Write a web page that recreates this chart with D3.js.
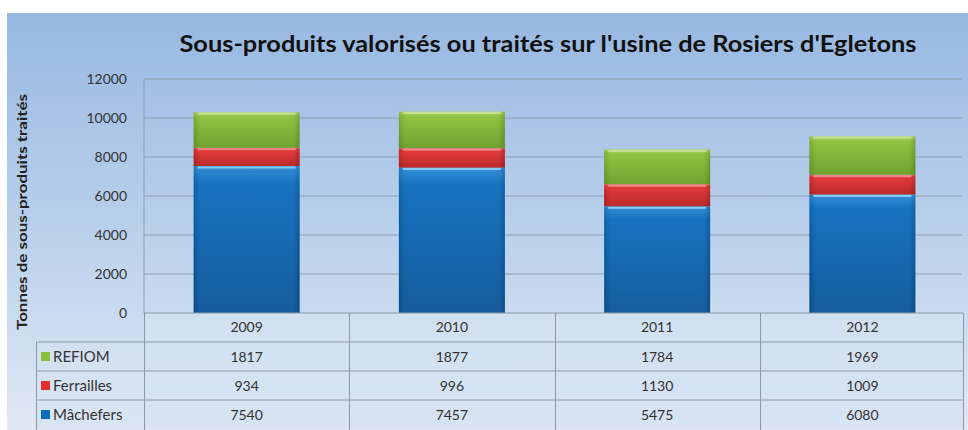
<!DOCTYPE html>
<html>
<head>
<meta charset="utf-8">
<script src="https://cdn.jsdelivr.net/npm/d3@7"></script>
<style>
  body { margin: 0; background: #fff; }
  text { font-family: Lato, "Open Sans", sans-serif; }
</style>
</head>
<body>
<script>
// data
const years = ['2009', '2010', '2011', '2012']
const series = ['Mâchefers', 'Ferrailles', 'REFIOM']
const machefers = [7540, 7457, 5475, 6080]
const ferrailles = [934, 996, 1130, 1009]
const refiom = [1817, 1877, 1784, 1969]
const yTicks = [0, 2000, 4000, 6000, 8000, 10000, 12000]

const W = 968, H = 430
const colors = {
    'Mâchefers': ['#2a8ad6', '#0b6cbc', '#095498'],
    'Ferrailles': ['#f06060', '#e2302f', '#b82020'],
    'REFIOM': ['#aed65a', '#8bc13a', '#6a9e26']
}

const rows = years.map((y, i) => ({
    year: y,
    'Mâchefers': machefers[i],
    'Ferrailles': ferrailles[i],
    'REFIOM': refiom[i]
}))
const stacked = d3.stack().keys(series)(rows)

const svg = d3.select('body').append('svg')
    .attr('width', W).attr('height', H)

const defs = svg.append('defs')
const bg = defs.append('linearGradient').attr('id', 'bg')
    .attr('x1', 0).attr('y1', 0).attr('x2', 0).attr('y2', 1)
bg.append('stop').attr('offset', '0%').attr('stop-color', '#97b8e2')
bg.append('stop').attr('offset', '55%').attr('stop-color', '#bcd2ec')
bg.append('stop').attr('offset', '100%').attr('stop-color', '#dfe9f5')

series.forEach((s, k) => {
    const g = defs.append('linearGradient').attr('id', 'g' + k)
        .attr('x1', 0).attr('y1', 0).attr('x2', 0).attr('y2', 1)
    g.append('stop').attr('offset', '0%').attr('stop-color', colors[s][0])
    g.append('stop').attr('offset', '12%').attr('stop-color', colors[s][1])
    g.append('stop').attr('offset', '100%').attr('stop-color', colors[s][2])
    const h = defs.append('linearGradient').attr('id', 'h' + k)
        .attr('x1', 0).attr('y1', 0).attr('x2', 1).attr('y2', 0)
    h.append('stop').attr('offset', '0%').attr('stop-color', '#000').attr('stop-opacity', 0.12)
    h.append('stop').attr('offset', '8%').attr('stop-color', '#fff').attr('stop-opacity', 0.05)
    h.append('stop').attr('offset', '92%').attr('stop-color', '#fff').attr('stop-opacity', 0.05)
    h.append('stop').attr('offset', '100%').attr('stop-color', '#000').attr('stop-opacity', 0.15)
})

// panel
svg.append('rect').attr('x', 7).attr('y', 13).attr('width', W - 7).attr('height', H - 13)
    .attr('fill', 'url(#bg)')

const x = d3.scaleBand().domain(years).range([144, 965]).paddingInner(0).paddingOuter(0)
const y = d3.scaleLinear().domain([0, 12000]).range([313, 79])

// gridlines
svg.append('g').selectAll('line').data(yTicks.slice(1)).join('line')
    .attr('x1', 144).attr('x2', 962)
    .attr('y1', d => y(d)).attr('y2', d => y(d))
    .attr('stroke', '#8c9fb3').attr('stroke-width', 1)

// y axis
svg.append('line').attr('x1', 144).attr('x2', 144).attr('y1', 79).attr('y2', 313)
    .attr('stroke', '#8c9fb3')
svg.append('g').selectAll('text').data(yTicks).join('text')
    .attr('x', 127).attr('y', d => y(d) + 5)
    .attr('text-anchor', 'end')
    .attr('font-size', 14).attr('fill', '#333')
    .text(d => d)

// bars
const bw = 106
const layer = svg.append('g').selectAll('g').data(stacked).join('g')
layer.selectAll('rect.b').data((d, k) => d.map(v => ({ v, k }))).join('rect')
    .attr('class', 'b')
    .attr('x', d => x(d.v.data.year) + x.bandwidth() / 2 - bw / 2)
    .attr('width', bw)
    .attr('y', d => y(d.v[1]))
    .attr('height', d => y(d.v[0]) - y(d.v[1]))
    .attr('fill', d => 'url(#g' + d.k + ')')
layer.selectAll('rect.s').data((d, k) => d.map(v => ({ v, k }))).join('rect')
    .attr('class', 's')
    .attr('x', d => x(d.v.data.year) + x.bandwidth() / 2 - bw / 2)
    .attr('width', bw)
    .attr('y', d => y(d.v[1]))
    .attr('height', d => y(d.v[0]) - y(d.v[1]))
    .attr('fill', d => 'url(#h' + d.k + ')')
// top highlight of each segment
layer.selectAll('line').data((d, k) => d.map(v => ({ v, k }))).join('line')
    .attr('x1', d => x(d.v.data.year) + x.bandwidth() / 2 - bw / 2 + 4)
    .attr('x2', d => x(d.v.data.year) + x.bandwidth() / 2 + bw / 2 - 4)
    .attr('y1', d => y(d.v[1]) + 1.5).attr('y2', d => y(d.v[1]) + 1.5)
    .attr('stroke', d => d.k === 0 ? '#8fd0f5' : '#fff')
    .attr('stroke-opacity', d => d.k === 0 ? 0.9 : 0.35)
    .attr('stroke-width', 2)

// data table
const rowH = 29
const tableTop = 313
svg.append('rect').attr('x', 144).attr('y', tableTop).attr('width', 819).attr('height', rowH * 4)
    .attr('fill', '#d3e2f3').attr('opacity', 0.8)
svg.append('rect').attr('x', 36).attr('y', tableTop + rowH).attr('width', 108).attr('height', rowH * 3)
    .attr('fill', '#d3e2f3').attr('opacity', 0.6)

const tableRows = [
    { name: 'REFIOM', vals: refiom, k: 2 },
    { name: 'Ferrailles', vals: ferrailles, k: 1 },
    { name: 'Mâchefers', vals: machefers, k: 0 }
]
const lineCol = '#8a98a6'
// horizontal lines
svg.append('line').attr('x1', 144).attr('x2', 963).attr('y1', tableTop).attr('y2', tableTop)
    .attr('stroke', lineCol)
d3.range(1, 4).forEach(i => {
    svg.append('line').attr('x1', 36).attr('x2', 963)
        .attr('y1', tableTop + i * rowH).attr('y2', tableTop + i * rowH)
        .attr('stroke', lineCol)
})
// vertical lines
years.forEach(yr => {
    svg.append('line').attr('x1', Math.round(x(yr)) + 0.5).attr('x2', Math.round(x(yr)) + 0.5)
        .attr('y1', tableTop).attr('y2', H).attr('stroke', lineCol)
})
svg.append('line').attr('x1', 963.5).attr('x2', 963.5).attr('y1', tableTop).attr('y2', H).attr('stroke', lineCol)
svg.append('line').attr('x1', 36.5).attr('x2', 36.5).attr('y1', tableTop + rowH).attr('y2', H).attr('stroke', lineCol)

svg.append('g').selectAll('text').data(years).join('text')
    .attr('x', d => x(d) + x.bandwidth() / 2)
    .attr('y', tableTop + 19)
    .attr('text-anchor', 'middle').attr('font-size', 14).attr('fill', '#333')
    .text(d => d)

tableRows.forEach((r, i) => {
    const ry = tableTop + (i + 1) * rowH
    svg.append('rect').attr('x', 41).attr('y', ry + 10).attr('width', 9).attr('height', 9)
        .attr('fill', colors[series[r.k]][1])
    svg.append('text').attr('x', 53).attr('y', ry + 20)
        .attr('font-size', 15).attr('fill', '#333').text(r.name)
    svg.append('g').selectAll('text').data(r.vals).join('text')
        .attr('x', (d, j) => x(years[j]) + x.bandwidth() / 2)
        .attr('y', ry + 20)
        .attr('text-anchor', 'middle').attr('font-size', 14).attr('fill', '#333')
        .text(d => d)
})

// titles
svg.append('text').attr('x', 548).attr('y', 52)
    .attr('text-anchor', 'middle').attr('font-size', 23).attr('font-weight', 'bold')
    .attr('fill', '#111')
    .attr('textLength', 737).attr('lengthAdjust', 'spacingAndGlyphs')
    .text("Sous-produits valorisés ou traités sur l'usine de Rosiers d'Egletons")

svg.append('text')
    .attr('transform', 'translate(27,212) rotate(-90)')
    .attr('text-anchor', 'middle').attr('font-size', 14).attr('font-weight', 'bold')
    .attr('fill', '#222')
    .attr('textLength', 236).attr('lengthAdjust', 'spacingAndGlyphs')
    .text('Tonnes de sous-produits  traités')
</script>
</body>
</html>
